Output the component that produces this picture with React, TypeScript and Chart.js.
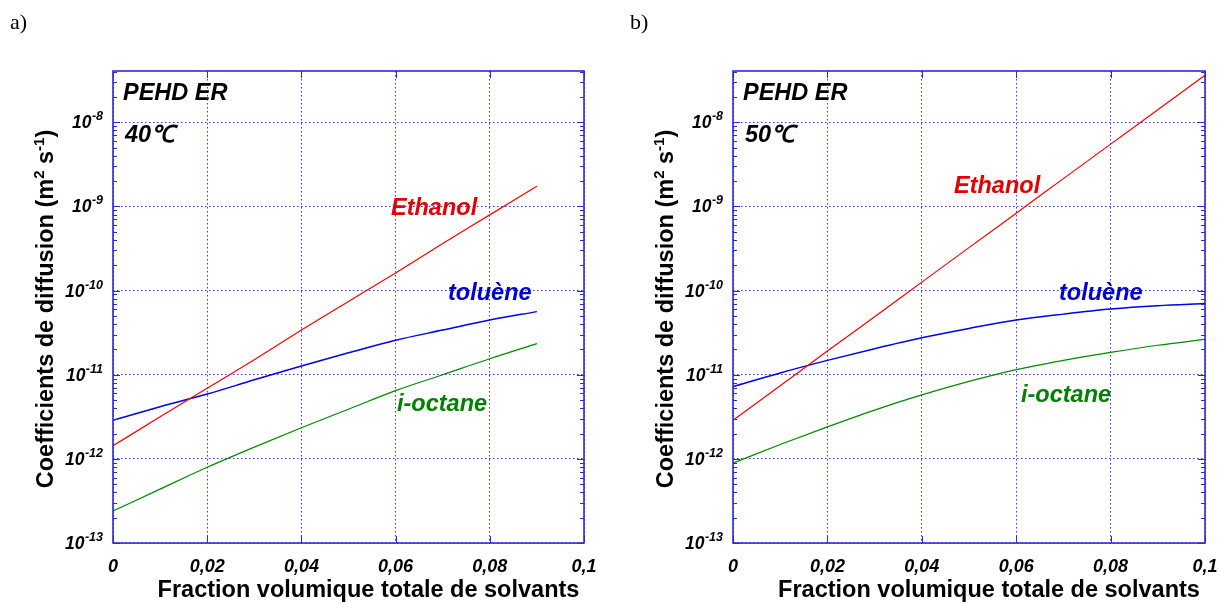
import React, { useEffect, useRef } from "react";
import { Chart, registerables } from "chart.js";
Chart.register(...registerables);

// ---------- data ----------
const xTickValues = [0, 0.02, 0.04, 0.06, 0.08, 0.1];
const yDecades = [1e-13, 1e-12, 1e-11, 1e-10, 1e-9, 1e-8];

// panel a) 40 °C
const fractionA = [0, 0.01, 0.02, 0.03, 0.04, 0.05, 0.06, 0.07, 0.08, 0.09];
const ethanolA = [1.43e-12, 3.16e-12, 6.92e-12, 1.51e-11, 3.39e-11, 7.41e-11, 1.62e-10, 3.63e-10, 7.94e-10, 1.74e-9];
const tolueneA = [2.88e-12, 4.17e-12, 5.89e-12, 8.7e-12, 1.27e-11, 1.82e-11, 2.57e-11, 3.39e-11, 4.47e-11, 5.62e-11];
const octaneA = [2.4e-13, 4.37e-13, 7.94e-13, 1.38e-12, 2.34e-12, 3.89e-12, 6.46e-12, 1.0e-11, 1.55e-11, 2.34e-11];

// panel b) 50 °C
const fractionB = [0, 0.01, 0.02, 0.03, 0.04, 0.05, 0.06, 0.07, 0.08, 0.09, 0.1];
const ethanolB = [2.88e-12, 7.41e-12, 1.91e-11, 4.9e-11, 1.26e-10, 3.24e-10, 8.32e-10, 2.14e-9, 5.5e-9, 1.41e-8, 3.63e-8];
const tolueneB = [7.24e-12, 1.05e-11, 1.48e-11, 2.04e-11, 2.75e-11, 3.55e-11, 4.47e-11, 5.25e-11, 6.03e-11, 6.61e-11, 7.0e-11];
const octaneB = [8.91e-13, 1.48e-12, 2.4e-12, 3.8e-12, 5.75e-12, 8.32e-12, 1.15e-11, 1.48e-11, 1.84e-11, 2.24e-11, 2.63e-11];

const seriesNames = ["Ethanol", "toluène", "i-octane"];
const panelLetters = ["a)", "b)"];
const panelTemps = ["40℃", "50℃"];
const materialName = "PEHD ER";
const xTitle = "Fraction volumique totale de solvants";

// ---------- styling ----------
const SANS = '"Liberation Sans", Arial, sans-serif';
const SERIF = '"Liberation Serif", "Times New Roman", serif';
const lineColors = ["#ff0000", "#0000e6", "#008a00"];
const labelColors = ["#e00000", "#0000cc", "#008000"];
const frameColor = "#2a2ad8";
const gridColor = "rgba(30,30,235,0.9)";

type PanelLayout = {
  canvasLeft: number;
  width: number;
  plotLeft: number;
  plotRight: number;
  letterX: number;
  labelPos: { dx: number; dy: number }[];
};

const layouts: PanelLayout[] = [
  {
    canvasLeft: 0,
    width: 610,
    plotLeft: 113,
    plotRight: 584,
    letterX: 10,
    labelPos: [
      { dx: 278, dy: 144 },
      { dx: 335, dy: 229 },
      { dx: 284, dy: 340 },
    ],
  },
  {
    canvasLeft: 610,
    width: 609,
    plotLeft: 123,
    plotRight: 595,
    letterX: 20,
    labelPos: [
      { dx: 221, dy: 122 },
      { dx: 326, dy: 229 },
      { dx: 288, dy: 331 },
    ],
  },
];

const H = 603;
const PLOT_TOP = 71;
const PLOT_BOTTOM = 543;

const fmtX = (v: number) => String(parseFloat(v.toFixed(2))).replace(".", ",");

function Panel({ index }: { index: number }) {
  const ref = useRef<HTMLCanvasElement | null>(null);
  useEffect(() => {
    const lay = layouts[index];
    const xs = index === 0 ? fractionA : fractionB;
    const ys = index === 0 ? [ethanolA, tolueneA, octaneA] : [ethanolB, tolueneB, octaneB];

    const decor = {
      id: "decor" + index,
      afterDraw(chart: any) {
        const ctx = chart.ctx as CanvasRenderingContext2D;
        const ca = chart.chartArea;
        const xs_ = chart.scales.x;
        const ys_ = chart.scales.y;
        ctx.save();

        // frame
        ctx.strokeStyle = frameColor;
        ctx.lineWidth = 1.6;
        ctx.strokeRect(ca.left, ca.top, ca.right - ca.left, ca.bottom - ca.top);

        // y minor/major ticks
        ctx.lineWidth = 1;
        const yMin = ys_.min, yMax = ys_.max;
        for (let e = -13; e <= -8; e++) {
          for (let m = 1; m <= 9; m++) {
            const v = m * Math.pow(10, e);
            if (v < yMin * 0.999 || v > yMax) continue;
            const py = Math.round(ys_.getPixelForValue(v)) + 0.5;
            const len = m === 1 ? 7 : 4;
            ctx.beginPath();
            ctx.moveTo(ca.left, py);
            ctx.lineTo(ca.left + len, py);
            ctx.moveTo(ca.right, py);
            ctx.lineTo(ca.right - len, py);
            ctx.stroke();
          }
        }
        // x ticks
        for (const v of xTickValues) {
          const px = Math.round(xs_.getPixelForValue(v)) + 0.5;
          ctx.beginPath();
          ctx.moveTo(px, ca.bottom);
          ctx.lineTo(px, ca.bottom - 7);
          ctx.moveTo(px, ca.top);
          ctx.lineTo(px, ca.top + 7);
          ctx.stroke();
        }

        // x tick labels
        ctx.fillStyle = "#000";
        ctx.font = `bold italic 18px ${SANS}`;
        ctx.textAlign = "center";
        ctx.textBaseline = "alphabetic";
        for (const v of xTickValues) {
          ctx.fillText(fmtX(v), xs_.getPixelForValue(v), ca.bottom + 29);
        }

        // y tick labels 10^e
        ctx.textAlign = "left";
        for (const v of yDecades) {
          const e = Math.round(Math.log10(v));
          const py = ys_.getPixelForValue(v);
          const right = ca.left - 10;
          ctx.font = `bold italic 12.5px ${SANS}`;
          const expStr = String(e);
          const ew = ctx.measureText(expStr).width;
          ctx.fillText(expStr, right - ew, py - 2);
          ctx.font = `bold italic 17.5px ${SANS}`;
          const bw = ctx.measureText("10").width;
          ctx.fillText("10", right - ew - bw - 0.5, py + 6);
        }

        // x title
        ctx.font = `bold 23.5px ${SANS}`;
        ctx.textAlign = "center";
        ctx.fillText(xTitle, (ca.left + ca.right) / 2 + 20, ca.bottom + 54);

        // y title with superscripts
        const segs = [
          { t: "Coefficients de diffusion (m", sup: false },
          { t: "2", sup: true },
          { t: " s", sup: false },
          { t: "-1", sup: true },
          { t: ")", sup: false },
        ];
        const bigF = `bold 23.5px ${SANS}`;
        const supF = `bold 15px ${SANS}`;
        let total = 0;
        const widths = segs.map((s) => {
          ctx.font = s.sup ? supF : bigF;
          const w = ctx.measureText(s.t).width;
          total += w;
          return w;
        });
        ctx.save();
        ctx.translate(ca.left - 60, (ca.top + ca.bottom) / 2 + 2);
        ctx.rotate(-Math.PI / 2);
        ctx.textAlign = "left";
        let x = -total / 2;
        segs.forEach((s, i) => {
          ctx.font = s.sup ? supF : bigF;
          ctx.fillText(s.t, x, s.sup ? -9 : 0);
          x += widths[i];
        });
        ctx.restore();

        // annotations
        ctx.textAlign = "left";
        ctx.font = `bold italic 23.5px ${SANS}`;
        ctx.fillStyle = "#000";
        ctx.fillText(materialName, ca.left + 10, ca.top + 29);
        ctx.fillText(panelTemps[index], ca.left + 12, ca.top + 71);

        seriesNames.forEach((name, i) => {
          ctx.fillStyle = labelColors[i];
          const p = lay.labelPos[i];
          ctx.fillText(name, ca.left + p.dx, ca.top + p.dy);
        });

        // panel letter
        ctx.fillStyle = "#000";
        ctx.font = `22px ${SERIF}`;
        ctx.fillText(panelLetters[index], lay.letterX, 29);

        ctx.restore();
      },
    };

    const chart = new Chart(ref.current as HTMLCanvasElement, {
      type: "line",
      data: {
        datasets: ys.map((arr, i) => ({
          label: seriesNames[i],
          data: xs.map((xv, j) => ({ x: xv, y: arr[j] })),
          borderColor: lineColors[i],
          borderWidth: i === 1 ? 1.5 : 1.2,
          pointRadius: 0,
          fill: false,
          cubicInterpolationMode: "monotone" as const,
        })),
      },
      options: {
        animation: false,
        responsive: false,
        devicePixelRatio: 1,
        events: [],
        layout: {
          padding: { left: 0, top: PLOT_TOP, right: lay.width - lay.plotRight, bottom: 0 },
        },
        plugins: {
          legend: { display: false },
          tooltip: { enabled: false },
          title: { display: false },
        },
        scales: {
          x: {
            type: "linear",
            min: 0,
            max: 0.1,
            ticks: { display: false, stepSize: 0.02 },
            grid: { color: gridColor, lineWidth: 1, drawTicks: false },
            border: { display: false, dash: [1.5, 2.5] },
            afterFit: (s: any) => {
              s.height = H - PLOT_BOTTOM;
            },
          },
          y: {
            type: "logarithmic",
            min: 1e-13,
            max: 4.07e-8,
            ticks: { display: false },
            afterBuildTicks: (s: any) => {
              s.ticks = yDecades.map((v) => ({ value: v, major: true }));
            },
            grid: { color: gridColor, lineWidth: 1, drawTicks: false },
            border: { display: false, dash: [1.5, 2.5] },
            afterFit: (s: any) => {
              s.width = lay.plotLeft;
            },
          },
        },
      } as any,
      plugins: [decor],
    });
    return () => chart.destroy();
  }, [index]);

  const lay = layouts[index];
  return (
    <canvas
      ref={ref}
      width={lay.width}
      height={H}
      style={{ position: "absolute", left: lay.canvasLeft, top: 0, width: lay.width, height: H }}
    />
  );
}

export default function App() {
  return (
    <div style={{ position: "fixed", left: 0, top: 0, width: 1219, height: H, background: "#fff" }}>
      <Panel index={0} />
      <Panel index={1} />
    </div>
  );
}
